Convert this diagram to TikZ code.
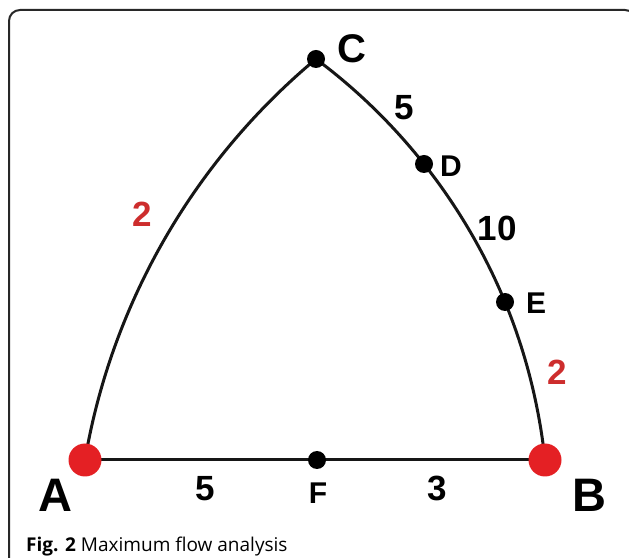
\documentclass[tikz,border=0pt]{standalone}
\usepackage{fontspec}
\setmainfont{Liberation Sans}
\newfontfamily\capfont{Open Sans}
\usetikzlibrary{backgrounds}

\definecolor{dotred}{RGB}{228,32,36}
\definecolor{numred}{RGB}{205,45,45}
\definecolor{linegray}{RGB}{22,22,22}
\definecolor{framegray}{RGB}{40,40,40}

\begin{document}
\begin{tikzpicture}[x=1pt,y=1pt,
  arcline/.style={draw=linegray, line width=3pt},
  reddot/.style={circle, fill=dotred, minimum size=33pt, inner sep=0pt},
  blackdot/.style={circle, fill=black, minimum size=18pt, inner sep=0pt},
  biglbl/.style={inner sep=0pt, font=\fontsize{47}{47}\selectfont\bfseries},
  midlbl/.style={inner sep=0pt, font=\fontsize{40}{40}\selectfont\bfseries},
  lbl/.style={inner sep=0pt, font=\fontsize{30}{30}\selectfont\bfseries},
  numlbl/.style={inner sep=0pt, font=\fontsize{35}{35}\selectfont\bfseries},
  rednum/.style={numlbl, text=numred},
  caption/.style={inner sep=0pt, anchor=base west, font=\capfont\fontsize{19}{19}\selectfont}
]
\useasboundingbox (0,0) rectangle (629,557);
\draw[line width=2pt, rounded corners=11pt, draw=framegray] (9,-12) rectangle (636,547);

% vertices
\node[reddot]   (A) at (85,97)   {};
\node[reddot]   (B) at (545,97)  {};
\node[blackdot] (C) at (316,498) {};
\node[blackdot] (D) at (424,393) {};
\node[blackdot] (E) at (505,255) {};
\node[blackdot] (F) at (317,97)  {};

% connectors
\begin{scope}[on background layer]
  \draw[arcline] (A.center) -- (F.center);
  \draw[arcline] (F.center) -- (B.center);
  \draw[arcline] (A.center) to[out=80.35, in=219.84, looseness=0.879] (C.center);
  \draw[arcline] (C.center) to[out=-36.7, in=128.32, looseness=0.855] (D.center);
  \draw[arcline] (D.center) to[out=-51.68, in=112.4, looseness=0.856] (E.center);
  \draw[arcline] (E.center) to[out=-67.6, in=96.16, looseness=0.856] (B.center);
\end{scope}

% vertex labels
\node[biglbl] (lA) at (55,62)  {A};
\node[biglbl] (lB) at (589,62) {B};
\node[midlbl] (lC) at (352,508) {C};
\node[lbl]    (lD) at (451,391) {D};
\node[lbl]    (lE) at (536,254) {E};
\node[lbl]    (lF) at (318,64)  {F};

% capacities
\node[numlbl] (n5a) at (404,449) {5};
\node[numlbl] (n10) at (497,329) {10};
\node[rednum] (n2r) at (557,185) {2};
\node[rednum] (n2l) at (142,343) {2};
\node[numlbl] (n5b) at (205,68)  {5};
\node[numlbl] (n3)  at (437,69)  {3};

% caption
\node[caption] (cap) at (26,6) {\textbf{Fig. 2} Maximum flow analysis};
\end{tikzpicture}
\end{document}
